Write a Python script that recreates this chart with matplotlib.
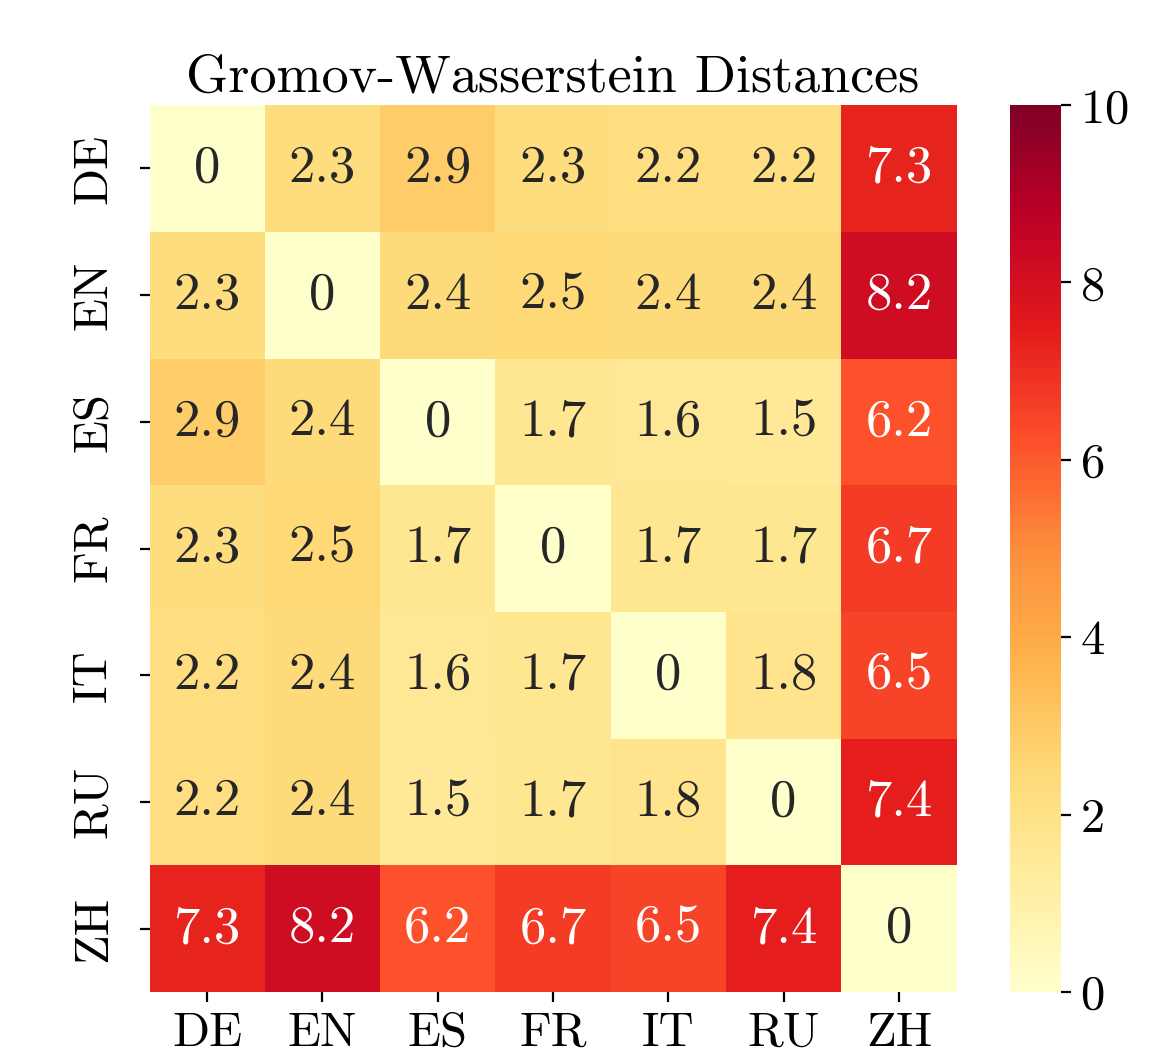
import numpy as np
import matplotlib
matplotlib.use("Agg")
import matplotlib.pyplot as plt
import seaborn as sns

# languages and pairwise distances
langs = ["DE", "EN", "ES", "FR", "IT", "RU", "ZH"]
row_de = [0, 2.3, 2.9, 2.3, 2.2, 2.2, 7.3]
row_en = [2.3, 0, 2.4, 2.5, 2.4, 2.4, 8.2]
row_es = [2.9, 2.4, 0, 1.7, 1.6, 1.5, 6.2]
row_fr = [2.3, 2.5, 1.7, 0, 1.7, 1.7, 6.7]
row_it = [2.2, 2.4, 1.6, 1.7, 0, 1.8, 6.5]
row_ru = [2.2, 2.4, 1.5, 1.7, 1.8, 0, 7.4]
row_zh = [7.3, 8.2, 6.2, 6.7, 6.5, 7.4, 0]
dist = np.array([row_de, row_en, row_es, row_fr, row_it, row_ru, row_zh])

plt.rcParams["font.family"] = "serif"
plt.rcParams["font.serif"] = ["cmr10"]
plt.rcParams["mathtext.fontset"] = "cm"
plt.rcParams["axes.formatter.use_mathtext"] = True

fig = plt.figure(figsize=(5.84, 5.31), dpi=200)
ax = fig.add_axes([0.128, 0.066, 0.691, 0.835])
cax = fig.add_axes([0.865, 0.066, 0.043, 0.835])

sns.heatmap(dist, ax=ax, cbar_ax=cax, cmap="YlOrRd", vmin=0, vmax=10,
            annot=True, annot_kws={"fontsize": 19},
            xticklabels=langs, yticklabels=langs)

ax.set_title("Gromov-Wasserstein Distances", fontsize=19.5, pad=5)
ax.tick_params(axis="both", labelsize=17.5)
ax.tick_params(axis="y", pad=8.5)
ax.set_yticklabels(langs, rotation=90, va="center")
ax.set_xticklabels(langs, rotation=0)
cax.tick_params(labelsize=17.5)
cax.set_yticks([0, 2, 4, 6, 8, 10])

fig.savefig("out.png", dpi=200)
